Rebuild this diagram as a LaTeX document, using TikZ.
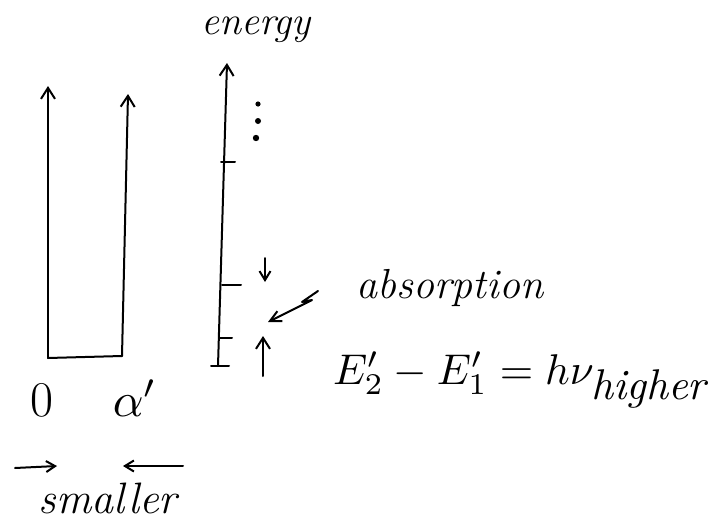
\documentclass[tikz,border=0pt]{standalone}
\usepackage{graphicx}
\usetikzlibrary{arrows.meta}
\begin{document}
\begin{tikzpicture}[x=1pt,y=-1pt,
  ink/.style={line width=2pt, line cap=round, line join=round},
  arr/.style={ink, -{Straight Barb[length=11pt,width=14pt]}},
  sarr/.style={ink, -{Straight Barb[length=9pt,width=11pt]}},
  lbl/.style={inner sep=0pt}]
\useasboundingbox (0,0) rectangle (717,525);
% well
\coordinate (wl) at (48,358);
\coordinate (wr) at (122,356);
\coordinate (wlt) at (48,86);
\coordinate (wrt) at (128,94);
\draw[arr] (wl) -- (wlt);
\draw[ink] (wl) -- (wr);
\draw[arr] (wr) -- (wrt);
% energy axis
\coordinate (eb) at (218,366);
\coordinate (et) at (227,63);
\draw[arr] (eb) -- (et);
\node[lbl, font=\itshape\fontsize{40}{40}\selectfont] (energy) at (256,30) {energy};
% ticks
\draw[ink] (221,162) -- (235,162);
\draw[ink] (222,285) -- (241,285);
\draw[ink] (219,338) -- (232,338);
\draw[ink] (211,366) -- (229,366);
% dots
\fill (258,104) circle (2.6pt);
\fill (258,121) circle (3pt);
\fill (256,138) circle (3.2pt);
% small arrows
\coordinate (da1) at (265,258);
\coordinate (da2) at (265,282);
\draw[sarr] (da1) -- (da2);
\coordinate (ua1) at (263,376);
\coordinate (ua2) at (263,336);
\draw[arr] (ua1) -- (ua2);
% absorption pointer
\node[lbl, font=\itshape\fontsize{42}{42}\selectfont] (abs) at (450,288) {absorption};
\coordinate (pt) at (268,322);
\draw[ink, -{Straight Barb[length=11pt,width=11pt]}] (318,291) -- (302,302) -- (312,300) -- (pt);
% equation
\node[inner sep=0pt, anchor=west] (eq) at (333,380) {\resizebox{375pt}{!}{$E_2'-E_1'=h\nu_{\textit{higher}}$}};
% labels
\node[lbl, font=\fontsize{50}{50}\selectfont] (zero) at (42,400) {0};
\node[lbl] (alpha) at (135,398) {\scalebox{4.8}{$\alpha'$}};
\coordinate (l1) at (15,468);
\coordinate (l2) at (57,466);
\draw[sarr] (l1) -- (l2);
\coordinate (r1) at (183,466);
\coordinate (r2) at (123,466);
\draw[sarr] (r1) -- (r2);
\node[lbl, font=\itshape\fontsize{44}{44}\selectfont] (smaller) at (108,498) {smaller};
\end{tikzpicture}
\end{document}
